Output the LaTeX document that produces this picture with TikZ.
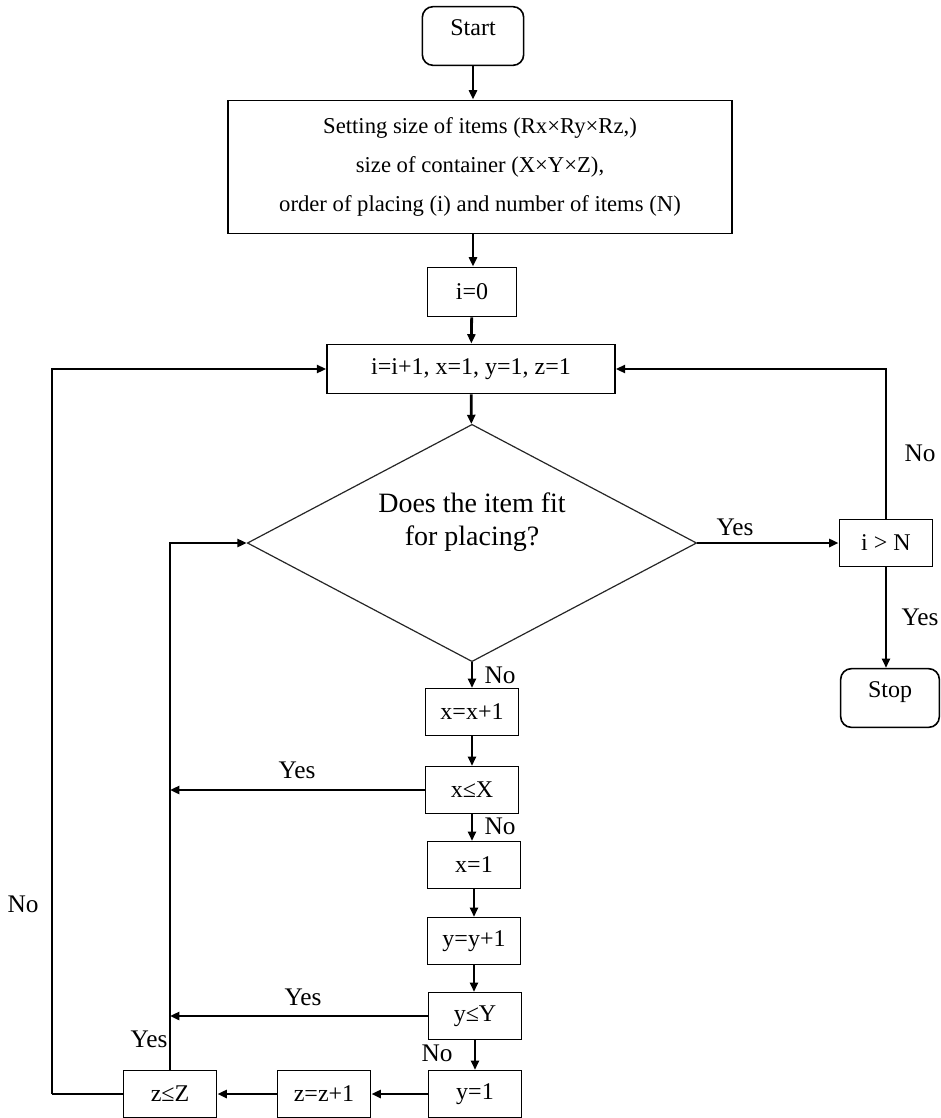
\documentclass[tikz,border=0pt]{standalone}
\usepackage{fontspec}
\setmainfont{Liberation Serif}
\usetikzlibrary{shapes.geometric,arrows.meta}

\begin{document}
\begin{tikzpicture}[x=0.75pt,y=-0.75pt,
  box/.style={draw,line width=1.2pt,inner sep=0pt,minimum width=70pt,minimum height=35pt,font=\fontsize{18}{20}\selectfont},
  term/.style={box,rounded corners=8pt,minimum width=76pt,minimum height=44pt,text height=12pt,text depth=13pt},
  flow/.style={line width=2.1pt,-{Triangle[length=7pt,width=6pt]}},
  line/.style={line width=2.1pt},
  lbl/.style={font=\fontsize{19}{20}\selectfont}]
\useasboundingbox (0,0) rectangle (940,1118);

\node[term] (start) at (473,36) {Start};
\node[box,minimum width=378pt,minimum height=100pt,align=center,font=\fontsize{17}{29}\selectfont] (setup) at (480,167)
  {Setting size of items (Rx×Ry×Rz,)\\ size of container (X×Y×Z),\\ order of placing (i) and number of items (N)};
\node[box,minimum width=67pt,minimum height=37pt] (init) at (472,292) {i=0};
\node[box,minimum width=216pt,minimum height=37pt] (incr) at (471,369) {i=i+1, x=1, y=1, z=1};
\node[diamond,draw=black!85,line width=0.9pt,inner sep=0pt,minimum width=337pt,minimum height=178pt] (fit) at (472,543) {};
\node[align=center,font=\fontsize{21}{25}\selectfont] (fittext) at (472,522) {Does the item fit\\ for placing?};
\node[box] (check) at (886,543) {i > N};
\node[term,minimum width=74pt] (stop) at (890,698) {Stop};
\node[box] (incx) at (472,712) {x=x+1};
\node[box] (testx) at (472,790) {x≤X};
\node[box] (resetx) at (474,865) {x=1};
\node[box] (incy) at (474,941) {y=y+1};
\node[box] (testy) at (475,1016) {y≤Y};
\node[box] (resety) at (475,1094) {y=1};
\node[box] (incz) at (324,1094) {z=z+1};
\node[box] (testz) at (170,1094) {z≤Z};
\coordinate (back) at (52,1094);

\draw[flow] (start.south) -- (start.south |- setup.north);
\draw[flow] (start.south |- setup.south) -- (start.south |- init.north);
\draw[flow] (init) -- (incr);
\draw[flow] (incr) -- (fit);
\draw[flow] (fit.east) -- (check.west);
\draw[flow] (check.north) |- (incr.east);
\draw[flow] (check.south) -- (check.south |- stop.north);
\draw[flow] (fit.south) -- (incx);
\draw[flow] (incx) -- (testx);
\draw[flow] (testx.south) -- (testx.south |- resetx.north);
\draw[flow] (resetx) -- (incy);
\draw[flow] (incy.south) -- (incy.south |- testy.north);
\draw[flow] (testy) -- (resety);
\draw[flow] (resety) -- (incz);
\draw[flow] (incz) -- (testz);
\draw[flow] (testx.west) -- (testz.north |- testx.west);
\draw[flow] (testy.west) -- (testz.north |- testy.west);
\draw[flow] (testz.north) |- (fit.west);
\draw[line] (testz.west) -- (back);
\draw[flow] (back) |- (incr.west);

\node[lbl] at (735,527) {Yes};
\node[lbl] at (920,453) {No};
\node[lbl] at (920,617) {Yes};
\node[lbl] at (500,675) {No};
\node[lbl] at (297,770) {Yes};
\node[lbl] at (500,826) {No};
\node[lbl] at (303,997) {Yes};
\node[lbl] at (437,1053) {No};
\node[lbl] at (149,1039) {Yes};
\node[lbl] at (23,904) {No};
\end{tikzpicture}
\end{document}
